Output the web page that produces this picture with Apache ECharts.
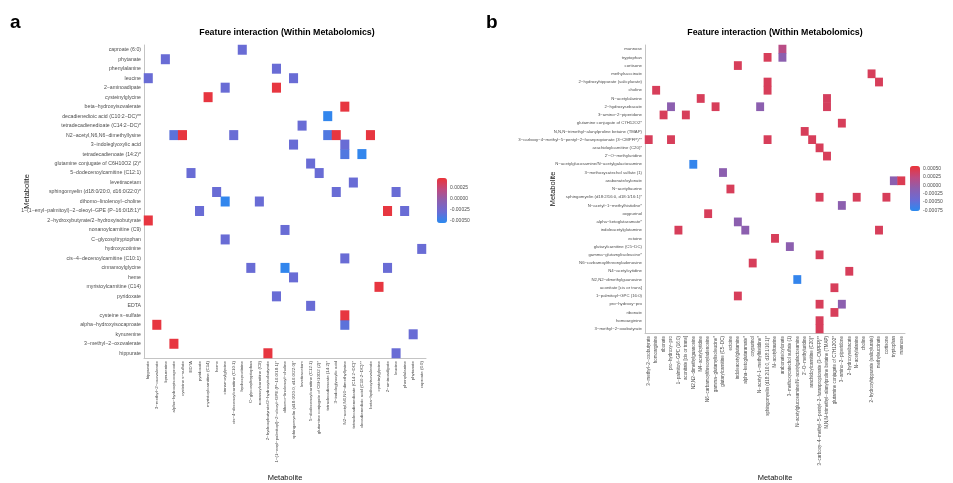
<!DOCTYPE html>
<html>
<head>
<meta charset="utf-8">
<title>feature-interaction</title>
<style>html,body{margin:0;padding:0;background:#fff}#chart{width:953px;height:483px}</style>
</head>
<body>
<div id="chart"></div>
<script src="https://cdn.jsdelivr.net/npm/echarts@6/dist/echarts.min.js"></script>
<script>
// panel a metabolites, x left->right and y bottom->top
const metabA = ['hippurate', '3\u2212methyl\u22122\u2212oxovalerate', 'kynurenine', 'alpha\u2212hydroxyisocaproate', 'cysteine s\u2212sulfate', 'EDTA', 'pyridoxate', 'myristoylcarnitine (C14)', 'heme', 'cinnamoylglycine', 'cis\u22124\u2212decenoylcarnitine (C10:1)', 'hydroxycotinine', 'C\u2212glycosyltryptophan', 'nonanoylcarnitine (C9)', '2\u2212hydroxybutyrate/2\u2212hydroxyisobutyrate', '1\u2212(1\u2212enyl\u2212palmitoyl)\u22122\u2212oleoyl\u2212GPE (P\u221216:0/18:1)*', 'dihomo\u2212linolenoyl\u2212choline', 'sphingomyelin (d18:0/20:0, d16:0/22:0)*', 'levetiracetam', '5\u2212dodecenoylcarnitine (C12:1)', 'glutamine conjugate of C6H10O2 (2)*', 'tetradecadienoate (14:2)*', '3\u2212indoleglyoxylic acid', 'N2\u2212acetyl,N6,N6\u2212dimethyllysine', 'tetradecadienedioate (C14:2\u2212DC)*', 'decadienedioic acid (C10:2\u2212DC)**', 'beta\u2212hydroxyisovalerate', 'cysteinylglycine', '2\u2212aminoadipate', 'leucine', 'phenylalanine', 'phytanate', 'caproate (6:0)'];

// pairs [i, j, value(i,j), value(j,i) if different]
const pairsA = [
  [11, 32, -0.00030], [2, 31, -0.00030], [15, 30, -0.00030], [0, 29, -0.00030],
  [17, 29, -0.00030], [9, 28, -0.00030], [15, 28, 0.00045], [7, 27, 0.00045],
  [23, 26, 0.00045], [21, 25, -0.00052], [18, 24, -0.00030], [3, 23, -0.00035],
  [4, 23, 0.00045], [10, 23, -0.00030], [21, 23, -0.00040], [22, 23, 0.00045, -0.00030],
  [17, 22, -0.00030], [19, 20, -0.00030], [5, 19, -0.00030], [8, 17, -0.00030],
  [9, 16, -0.00052], [13, 16, -0.00030], [6, 15, -0.00030], [0, 14, 0.00045],
  [9, 12, -0.00030], [1, 3, 0.00045]
];

const metabB = ['3\u2212methyl\u22122\u2212oxobutyrate', 'homoarginine', 'ribonate', 'pro\u2212hydroxy\u2212pro', '1\u2212palmitoyl\u2212GPC (16:0)', 'aconitate [cis or trans]', 'N2,N2\u2212dimethylguanosine', 'N4\u2212acetylcytidine', 'N6\u2212carbamoylthreonyladenosine', 'gamma\u2212glutamylisoleucine*', 'glutarylcarnitine (C5\u2212DC)', 'ectoine', 'indoleacetylglutamine', 'alpha\u2212ketoglutaramate*', 'oxypurinol', 'N\u2212acetyl\u22121\u2212methylhistidine*', 'sphingomyelin (d18:2/16:0, d18:1/16:1)*', 'N\u2212acetyltaurine', 'arabonate/xylonate', '3\u2212methoxycatechol sulfate (1)', 'N\u2212acetylglucosamine/N\u2212acetylgalactosamine', '2\'\u2212O\u2212methyluridine', 'arachidoylcarnitine (C20)*', '3\u2212carboxy\u22124\u2212methyl\u22125\u2212pentyl\u22122\u2212furanpropionate (3\u2212CMPFP)**', 'N,N,N\u2212trimethyl\u2212alanylproline betaine (TMAP)', 'glutamine conjugate of C7H12O2*', '3\u2212amino\u22122\u2212piperidone', '2\u2212hydroxysebacate', 'N\u2212acetylalanine', 'choline', '2\u2212hydroxyhippurate (salicylurate)', 'methylsuccinate', 'cortisone', 'tryptophan', 'mannose'];

// cells [x, y, value] as read
const cellsB = [
  [18, 34, 0.00020], [16, 33, 0.00042], [18, 33, -0.00010], [12, 32, 0.00042],
  [30, 31, 0.00042], [16, 30, 0.00042], [31, 30, 0.00042], [1, 29, 0.00042],
  [16, 29, 0.00042], [7, 28, 0.00042], [24, 28, 0.00040], [3, 27, -0.00010],
  [9, 27, 0.00042], [15, 27, -0.00010], [24, 27, 0.00040], [2, 26, 0.00042],
  [5, 26, 0.00042], [26, 25, 0.00042], [21, 24, 0.00042], [0, 23, 0.00042],
  [3, 23, 0.00042], [16, 23, 0.00042], [22, 23, 0.00042], [23, 22, 0.00042],
  [24, 21, 0.00042], [6, 20, -0.00072], [10, 19, -0.00010], [33, 18, -0.00010],
  [34, 18, 0.00045], [11, 17, 0.00042], [23, 16, 0.00042], [28, 16, 0.00042],
  [32, 16, 0.00042], [26, 15, -0.00010], [8, 14, 0.00042], [12, 13, -0.00010],
  [4, 12, 0.00042], [13, 12, -0.00010], [31, 12, 0.00042], [17, 11, 0.00042],
  [19, 10, -0.00010], [23, 9, 0.00042], [14, 8, 0.00042], [27, 7, 0.00042],
  [20, 6, -0.00072], [25, 5, 0.00042], [12, 4, 0.00042], [23, 3, 0.00042],
  [26, 3, -0.00010], [25, 2, 0.00042], [23, 1, 0.00042], [23, 0, 0.00042]
];

const ticksA = [0.00025, 0, -0.00025, -0.0005];
const rangeA = [-0.00055, 0.00048];
const ticksB = [0.0005, 0.00025, 0, -0.00025, -0.0005, -0.00075];
const rangeB = [-0.00077, 0.00058];
const colours = ['#2a8af0', '#6b6bd4', '#8d5fae', '#bf4a7f', '#ec3338'];

function mirror(pairs) {
  const out = [];
  for (const p of pairs) {
    out.push([p[0], p[1], p[2]]);
    out.push([p[1], p[0], p.length > 3 ? p[3] : p[2]]);
  }
  return out;
}

const font = "'Liberation Sans', Arial, sans-serif";
const grey = '#c4c4c4';

function catAxis(gridIndex, names, isX, nameGap, size, shift) {
  return {
    type: 'category', gridIndex, data: names,
    name: 'Metabolite', nameLocation: 'middle', nameGap, nameMoveOverlap: false,
    nameTextStyle: { fontFamily: font, fontSize: 7.5, color: '#111', padding: [0, 0, 0, shift || 0] },
    axisLine: { show: true, lineStyle: { color: grey, width: 1 } },
    axisTick: { show: false },
    splitLine: { show: false },
    axisLabel: {
      interval: 0, rotate: isX ? 90 : 0, margin: 3, hideOverlap: false,
      fontFamily: font, fontSize: size, color: '#4d4d4d'
    }
  };
}

function barAxes(gridIndex, range, ticks) {
  const base = {
    type: 'value', gridIndex, min: range[0], max: range[1],
    axisLine: { show: false }, splitLine: { show: false },
    axisTick: { show: true, inside: true, length: 2, customValues: ticks, lineStyle: { color: '#fff', width: 1 } }
  };
  return [
    Object.assign({}, base, {
      position: 'right',
      axisLabel: { customValues: ticks, margin: 3, fontFamily: font, fontSize: 5, color: '#4d4d4d',
        formatter: v => v.toFixed(5) }
    }),
    Object.assign({}, base, { position: 'left', axisLabel: { show: false } })
  ];
}

const chart = echarts.init(document.getElementById('chart'), null, { renderer: 'canvas' });

const option = {
  animation: false,
  backgroundColor: '#fff',
  grid: [
    { left: 144, top: 45, width: 282, height: 313, outerBoundsMode: 'none' },
    { left: 645, top: 45, width: 260, height: 288, outerBoundsMode: 'none' },
    { left: 437, top: 178, width: 10, height: 45, outerBoundsMode: 'none' },
    { left: 910, top: 166, width: 10, height: 45, outerBoundsMode: 'none' }
  ],
  xAxis: [
    catAxis(0, metabA, true, 116, 4.4),
    catAxis(1, metabB, true, 141, 4.5),
    { type: 'value', gridIndex: 2, show: false },
    { type: 'value', gridIndex: 3, show: false }
  ],
  yAxis: [
    catAxis(0, metabA, false, 113, 5.2, 20),
    catAxis(1, metabB, false, 88, 4.3),
    ...barAxes(2, rangeA, ticksA),
    ...barAxes(3, rangeB, ticksB)
  ],
  visualMap: [
    { type: 'continuous', seriesIndex: 0, min: rangeA[0], max: rangeA[1], orient: 'vertical',
      left: 437, top: 178, itemWidth: 10, itemHeight: 45, padding: 0, calculable: false,
      inRange: { color: colours } },
    { type: 'continuous', seriesIndex: 1, min: rangeB[0], max: rangeB[1], orient: 'vertical',
      left: 910, top: 166, itemWidth: 10, itemHeight: 45, padding: 0, calculable: false,
      inRange: { color: colours } }
  ],
  series: [
    { type: 'heatmap', xAxisIndex: 0, yAxisIndex: 0, data: mirror(pairsA), itemStyle: { borderWidth: 0 } },
    { type: 'heatmap', xAxisIndex: 1, yAxisIndex: 1, data: cellsB, itemStyle: { borderWidth: 0 } }
  ],
  graphic: [
    { type: 'text', left: 10, top: 13, style: { text: 'a', font: 'bold 19px ' + font, fill: '#000' } },
    { type: 'text', left: 486, top: 13, style: { text: 'b', font: 'bold 19px ' + font, fill: '#000' } },
    { type: 'text', x: 287, y: 28, style: { text: 'Feature interaction (Within Metabolomics)', font: 'bold 8.8px ' + font, fill: '#000', align: 'center' } },
    { type: 'text', x: 775, y: 28, style: { text: 'Feature interaction (Within Metabolomics)', font: 'bold 8.8px ' + font, fill: '#000', align: 'center' } }
  ]
};

chart.setOption(option);
</script>
</body>
</html>
